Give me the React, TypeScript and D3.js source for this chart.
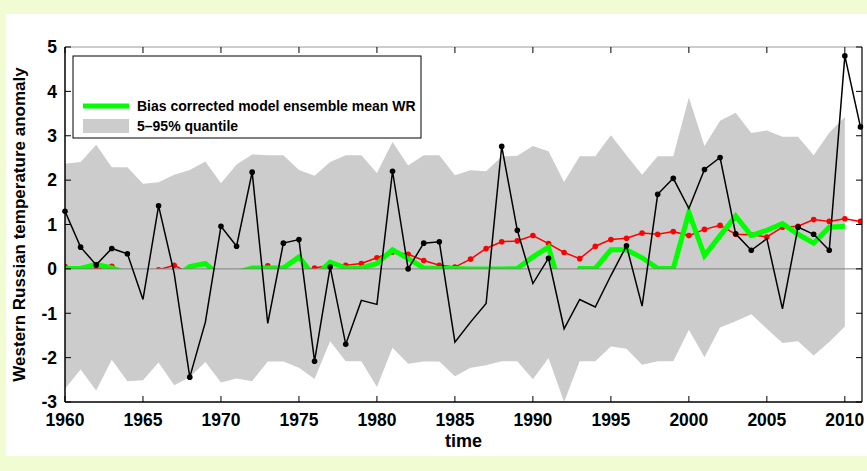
import React from "react";
import * as d3 from "d3";

// years 1960–2011
const years = [
  1960, 1961, 1962, 1963, 1964, 1965, 1966, 1967, 1968, 1969,
  1970, 1971, 1972, 1973, 1974, 1975, 1976, 1977, 1978, 1979,
  1980, 1981, 1982, 1983, 1984, 1985, 1986, 1987, 1988, 1989,
  1990, 1991, 1992, 1993, 1994, 1995, 1996, 1997, 1998, 1999,
  2000, 2001, 2002, 2003, 2004, 2005, 2006, 2007, 2008, 2009,
  2010, 2011,
];

// observed anomaly (black)
const observed = [
  1.3, 0.49, 0.09, 0.46, 0.34, -0.69, 1.42, -0.1, -2.44, -1.2,
  0.96, 0.51, 2.18, -1.23, 0.58, 0.66, -2.08, 0.04, -1.7, -0.71,
  -0.8, 2.2, 0.0, 0.58, 0.61, -1.65, -1.2, -0.78, 2.76, 0.87,
  -0.33, 0.24, -1.35, -0.69, -0.86, -0.15, 0.52, -0.84, 1.68, 2.04,
  1.36, 2.24, 2.51, 0.79, 0.42, 0.68, -0.9, 0.94, 0.78, 0.42,
  4.8, 3.2,
];

// years where the observed series carries a marker
const observedMarked = [
  1960, 1961, 1962, 1963, 1964, 1966, 1968, 1970, 1971, 1972, 1974, 1975,
  1976, 1977, 1978, 1981, 1982, 1983, 1984, 1988, 1989, 1991, 1996, 1998,
  1999, 2001, 2002, 2003, 2004, 2007, 2008, 2009, 2010, 2011,
];

// red series (only the part above zero is shown)
const redSeries = [
  0.05, -0.01, 0.0, 0.06, -0.15, -0.12, -0.02, 0.08, -0.1, -0.15,
  -0.2, -0.15, -0.05, 0.07, -0.05, -0.1, 0.02, 0.08, 0.08, 0.12,
  0.25, 0.38, 0.33, 0.19, 0.08, 0.04, 0.22, 0.46, 0.61, 0.63,
  0.75, 0.57, 0.37, 0.23, 0.51, 0.66, 0.69, 0.81, 0.78, 0.84,
  0.75, 0.89, 0.98, 0.78, 0.77, 0.72, 0.94, 0.96, 1.11, 1.07,
  1.13, 1.07,
];

// bias corrected model ensemble mean WR (green, clipped at zero)
const ensembleMean = [
  0.01, 0.01, 0.1, 0.02, -0.1, -0.15, -0.1, -0.2, 0.05, 0.12,
  -0.18, -0.08, 0.02, 0.02, 0.02, 0.27, -0.18, 0.15, 0.02, 0.02,
  0.12, 0.43, 0.23, 0.02, 0.01, 0.01, 0.0, 0.0, 0.0, 0.01,
  0.27, 0.49, -0.7, 0.01, 0.01, 0.43, 0.43, 0.25, 0.01, 0.01,
  1.27, 0.3, 0.75, 1.19, 0.75, 0.87, 1.02, 0.78, 0.58, 0.94,
  0.96, null,
];

// 5–95% quantile band
const q95 = [
  2.37, 2.41, 2.8, 2.29, 2.29, 1.92, 1.95, 2.12, 2.23, 2.42,
  1.93, 2.35, 2.58, 2.56, 2.56, 2.23, 2.1, 2.41, 2.56, 2.56,
  2.16, 2.86, 2.33, 2.56, 2.56, 2.11, 2.22, 2.2, 2.53, 2.55,
  2.77, 2.65, 1.96, 2.54, 2.54, 3.01, 2.56, 2.12, 2.54, 2.54,
  3.86, 2.77, 3.34, 3.52, 3.06, 3.12, 2.98, 2.98, 2.56, 3.07,
  3.42, null,
];
const q05 = [
  -2.7, -2.27, -2.74, -2.05, -2.53, -2.51, -2.11, -2.62, -2.44, -2.1,
  -2.56, -2.47, -2.53, -2.09, -2.09, -2.23, -2.48, -1.63, -2.08, -2.08,
  -2.66, -1.78, -2.14, -2.09, -2.09, -2.42, -2.23, -2.17, -2.08, -2.08,
  -2.49, -2.01, -3.0, -2.08, -2.08, -1.75, -1.8, -2.16, -2.08, -2.08,
  -1.37, -1.99, -1.32, -1.18, -1.02, -1.35, -1.67, -1.63, -1.95, -1.65,
  -1.3, null,
];

const xTicks = [1960, 1965, 1970, 1975, 1980, 1985, 1990, 1995, 2000, 2005, 2010];
const yTicks = [-3, -2, -1, 0, 1, 2, 3, 4, 5];

const W = 867;
const H = 471;
const FONT = "'Liberation Sans', Arial, Helvetica, sans-serif";

export default function App() {
  const left = 65, right = 862, top = 47, bottom = 402;
  const x = d3.scaleLinear().domain([1960, 2011.1]).range([left, right]);
  const y = d3.scaleLinear().domain([-3, 5]).range([bottom, top]);

  const rows = years.map((yr, i) => ({
    yr,
    obs: observed[i],
    red: redSeries[i],
    ens: ensembleMean[i],
    hi: q95[i],
    lo: q05[i],
  }));

  const band = d3
    .area<any>()
    .defined((d) => d.hi != null && d.lo != null)
    .x((d) => x(d.yr))
    .y0((d) => y(d.lo))
    .y1((d) => y(d.hi));

  const line = (key: string) =>
    d3
      .line<any>()
      .defined((d) => d[key] != null)
      .x((d) => x(d.yr))
      .y((d) => y(d[key]));

  const marked = rows.filter((d) => observedMarked.includes(d.yr));

  return (
    <svg
      width={W}
      height={H}
      style={{ position: "absolute", left: 0, top: 0 }}
      fontFamily={FONT}
    >
      <rect x={0} y={0} width={W} height={H} fill="#f1fcd2" />
      <rect x={6} y={14} width={W - 6} height={442} fill="#ffffff" />

      <defs>
        <clipPath id="aboveZero">
          <rect x={left} y={top} width={right - left} height={y(0) - top} />
        </clipPath>
      </defs>

      <path d={band(rows) ?? ""} fill="#cccccc" />

      <g clipPath="url(#aboveZero)">
        <path d={line("red")(rows) ?? ""} fill="none" stroke="#ff0000" strokeWidth={1.5} />
        {rows.map((d) => (
          <circle key={"r" + d.yr} cx={x(d.yr)} cy={y(d.red)} r={2.8} fill="#ff0000" />
        ))}
        <path
          d={line("ens")(rows) ?? ""}
          fill="none"
          stroke="#00ff00"
          strokeWidth={5}
          strokeLinejoin="miter"
        />
      </g>

      <line x1={left} x2={right} y1={y(0)} y2={y(0)} stroke="#808080" strokeWidth={1} />

      <path d={line("obs")(rows) ?? ""} fill="none" stroke="#000" strokeWidth={1.5} />
      {marked.map((d) => (
        <circle key={"o" + d.yr} cx={x(d.yr)} cy={y(d.obs)} r={2.8} fill="#000" />
      ))}

      {/* frame */}
      <line x1={left} x2={right} y1={top} y2={top} stroke="#9a9a9a" strokeWidth={1} />
      <line x1={right} x2={right} y1={top} y2={bottom} stroke="#000" strokeWidth={1.2} />
      <line x1={left} x2={left} y1={top} y2={bottom} stroke="#000" strokeWidth={1.5} />
      <line x1={left} x2={right} y1={bottom} y2={bottom} stroke="#000" strokeWidth={1.5} />

      {xTicks.map((t) => (
        <g key={"x" + t}>
          <line x1={x(t)} x2={x(t)} y1={bottom} y2={bottom - 6} stroke="#000" />
          <line x1={x(t)} x2={x(t)} y1={top} y2={top + 6} stroke="#000" />
          <text
            x={x(t)}
            y={426}
            textAnchor="middle"
            fontSize={17.5}
            fontWeight="bold"
          >
            {t}
          </text>
        </g>
      ))}
      {yTicks.map((t) => (
        <g key={"y" + t}>
          <line x1={left} x2={left + 6} y1={y(t)} y2={y(t)} stroke="#000" />
          <line x1={right} x2={right - 6} y1={y(t)} y2={y(t)} stroke="#000" />
          <text
            x={57}
            y={y(t)}
            dy="0.36em"
            textAnchor="end"
            fontSize={17.5}
            fontWeight="bold"
          >
            {t}
          </text>
        </g>
      ))}

      <text x={(left + right) / 2} y={447} textAnchor="middle" fontSize={18} fontWeight="bold">
        time
      </text>
      <text
        transform={`translate(25,${(top + bottom) / 2}) rotate(-90)`}
        textAnchor="middle"
        fontSize={17}
        fontWeight="bold"
      >
        Western Russian temperature anomaly
      </text>

      {/* legend */}
      <rect x={73} y={56} width={348} height={82} fill="#fff" stroke="#000" strokeWidth={1} />
      <line x1={83} x2={129} y1={106} y2={106} stroke="#00ff00" strokeWidth={5} />
      <rect x={83} y={119} width={46} height={14} fill="#cccccc" />
      <text x={137} y={111} fontSize={14} fontWeight="bold">
        Bias corrected model ensemble mean WR
      </text>
      <text x={137} y={131} fontSize={14} fontWeight="bold">
        5–95% quantile
      </text>
    </svg>
  );
}
